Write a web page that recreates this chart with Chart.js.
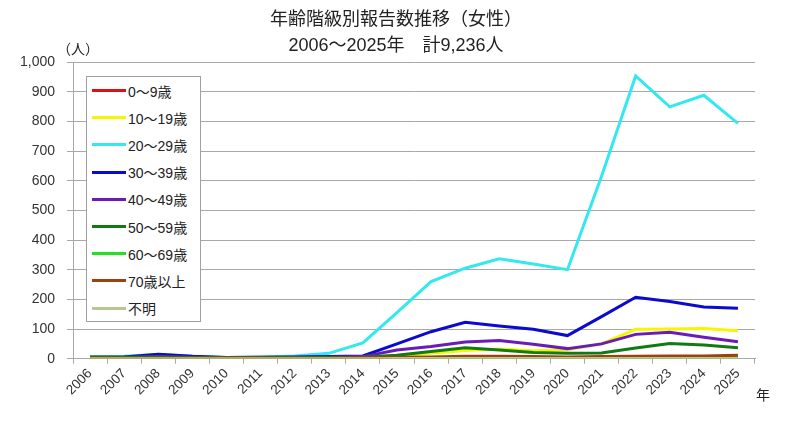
<!DOCTYPE html>
<html lang="ja">
<head>
<meta charset="utf-8">
<script src="https://cdn.jsdelivr.net/npm/chart.js@4/dist/chart.umd.min.js"></script>
<style>
  body { margin: 0; background: #fff; }
  #wrap { position: relative; width: 805px; height: 421px; }
  #legend {
    position: absolute; left: 86px; top: 76px; width: 115px; height: 246px;
    border: 1px solid #a0a0a0; background: #fff; box-sizing: border-box;
    font-family: "Liberation Sans", "Noto Sans CJK JP", sans-serif; font-size: 14px; color: #222;
    padding-top: 0;
  }
  #legend .item { height: 27.2px; display: flex; align-items: center; }
  #legend .swatch { width: 34px; height: 3px; margin-left: 5px; margin-right: 2px; }
</style>
</head>
<body>
<div id="wrap">
  <canvas id="chart" width="805" height="421"></canvas>
  <div id="legend"></div>
</div>
<script>
// 年齢階級別報告数（女性）
const years = ['2006', '2007', '2008', '2009', '2010', '2011', '2012', '2013', '2014', '2015',
  '2016', '2017', '2018', '2019', '2020', '2021', '2022', '2023', '2024', '2025'];

const age0_9   = [1, 1, 2, 1, 1, 1, 1, 1, 1, 2, 2, 3, 3, 2, 2, 3, 4, 4, 3, 4];
const age10_19 = [3, 3, 4, 3, 2, 3, 3, 4, 5, 10, 18, 28, 33, 27, 30, 50, 99, 100, 102, 94];
const age20_29 = [6, 8, 14, 8, 4, 6, 9, 18, 53, 155, 260, 305, 337, 319, 300, 615, 953, 849, 888, 793];
const age30_39 = [5, 6, 15, 8, 4, 5, 6, 7, 9, 50, 91, 123, 110, 99, 78, 142, 207, 193, 174, 170];
const age40_49 = [3, 4, 7, 5, 3, 4, 4, 5, 7, 29, 41, 56, 61, 49, 34, 50, 82, 89, 72, 57];
const age50_59 = [6, 5, 6, 4, 3, 3, 4, 4, 5, 12, 24, 37, 29, 21, 18, 19, 36, 51, 46, 37];
const age60_69 = [1, 1, 1, 1, 1, 1, 1, 1, 1, 2, 3, 4, 4, 3, 2, 3, 4, 5, 4, 4];
const age70    = [2, 2, 2, 2, 2, 2, 2, 2, 3, 5, 6, 8, 8, 7, 6, 7, 8, 9, 9, 12];
const unknown  = [0, 0, 0, 0, 0, 0, 0, 0, 0, 1, 1, 1, 1, 1, 1, 1, 1, 1, 1, 1];

const seriesNames = ['0～9歳', '10～19歳', '20～29歳', '30～39歳', '40～49歳',
  '50～59歳', '60～69歳', '70歳以上', '不明'];
const seriesData = [age0_9, age10_19, age20_29, age30_39, age40_49, age50_59, age60_69, age70, unknown];
const seriesColors = ['#dd1111', '#f6f600', '#33e8ee', '#0a0ad0', '#6a1cb8',
  '#127a12', '#22e022', '#a0400c', '#b4c894'];

const yTicks = [0, 100, 200, 300, 400, 500, 600, 700, 800, 900, 1000];
const titleLines = ['年齢階級別報告数推移（女性）', '2006～2025年　計9,236人'];

const FONT = '"Liberation Sans", "Noto Sans CJK JP", sans-serif';
const GRID = '#a8a8a8';

// タイトルと単位「（人）」「年」
const chartTexts = {
  id: 'chartTexts',
  afterDraw(chart) {
    const ctx = chart.ctx;
    const area = chart.chartArea;
    ctx.save();
    ctx.fillStyle = '#222';
    ctx.textBaseline = 'middle';
    ctx.font = '18px ' + FONT;
    ctx.textAlign = 'center';
    ctx.fillText(titleLines[0], 396, 20);
    ctx.fillText(titleLines[1], 396, 46);
    ctx.font = '14px ' + FONT;
    ctx.textAlign = 'left';
    ctx.fillText('（人）', area.left - 16, area.top - 12);
    ctx.fillText('年', area.right + 1, area.bottom + 37);
    ctx.restore();
  }
};

new Chart(document.getElementById('chart'), {
  type: 'line',
  data: {
    labels: years,
    datasets: seriesNames.map((name, i) => ({
      label: name,
      data: seriesData[i],
      borderColor: seriesColors[i],
      backgroundColor: seriesColors[i],
      borderWidth: 3,
      pointRadius: 0,
      tension: 0,
      fill: false,
      order: seriesNames.length - i
    }))
  },
  options: {
    responsive: false,
    devicePixelRatio: 1,
    animation: false,
    layout: { padding: { left: 0, right: 50, top: 62, bottom: 0 } },
    plugins: {
      legend: { display: false },
      tooltip: { enabled: false },
      title: { display: false }
    },
    scales: {
      x: {
        offset: true,
        grid: { offset: true, drawOnChartArea: false, color: GRID, tickLength: 5 },
        border: { color: GRID },
        ticks: {
          autoSkip: false, minRotation: 45, maxRotation: 45,
          color: '#333', font: { family: FONT, size: 13.5 }, padding: 2
        },
        afterFit: s => { s.height = 62.3; }
      },
      y: {
        min: 0, max: 1000,
        afterBuildTicks: s => { s.ticks = yTicks.map(v => ({ value: v })); },
        grid: { color: GRID, tickLength: 6 },
        border: { color: GRID },
        ticks: {
          color: '#333', font: { family: FONT, size: 14 }, padding: 12,
          callback: v => v.toLocaleString('en-US')
        },
        afterFit: s => { s.width = 73; }
      }
    }
  },
  plugins: [chartTexts]
});

// 凡例（グラフ内左上）
const legendEl = document.getElementById('legend');
seriesNames.forEach((name, i) => {
  const item = document.createElement('div');
  item.className = 'item';
  const sw = document.createElement('span');
  sw.className = 'swatch';
  sw.style.background = seriesColors[i];
  const txt = document.createElement('span');
  txt.textContent = name;
  item.appendChild(sw);
  item.appendChild(txt);
  legendEl.appendChild(item);
});
</script>
</body>
</html>
